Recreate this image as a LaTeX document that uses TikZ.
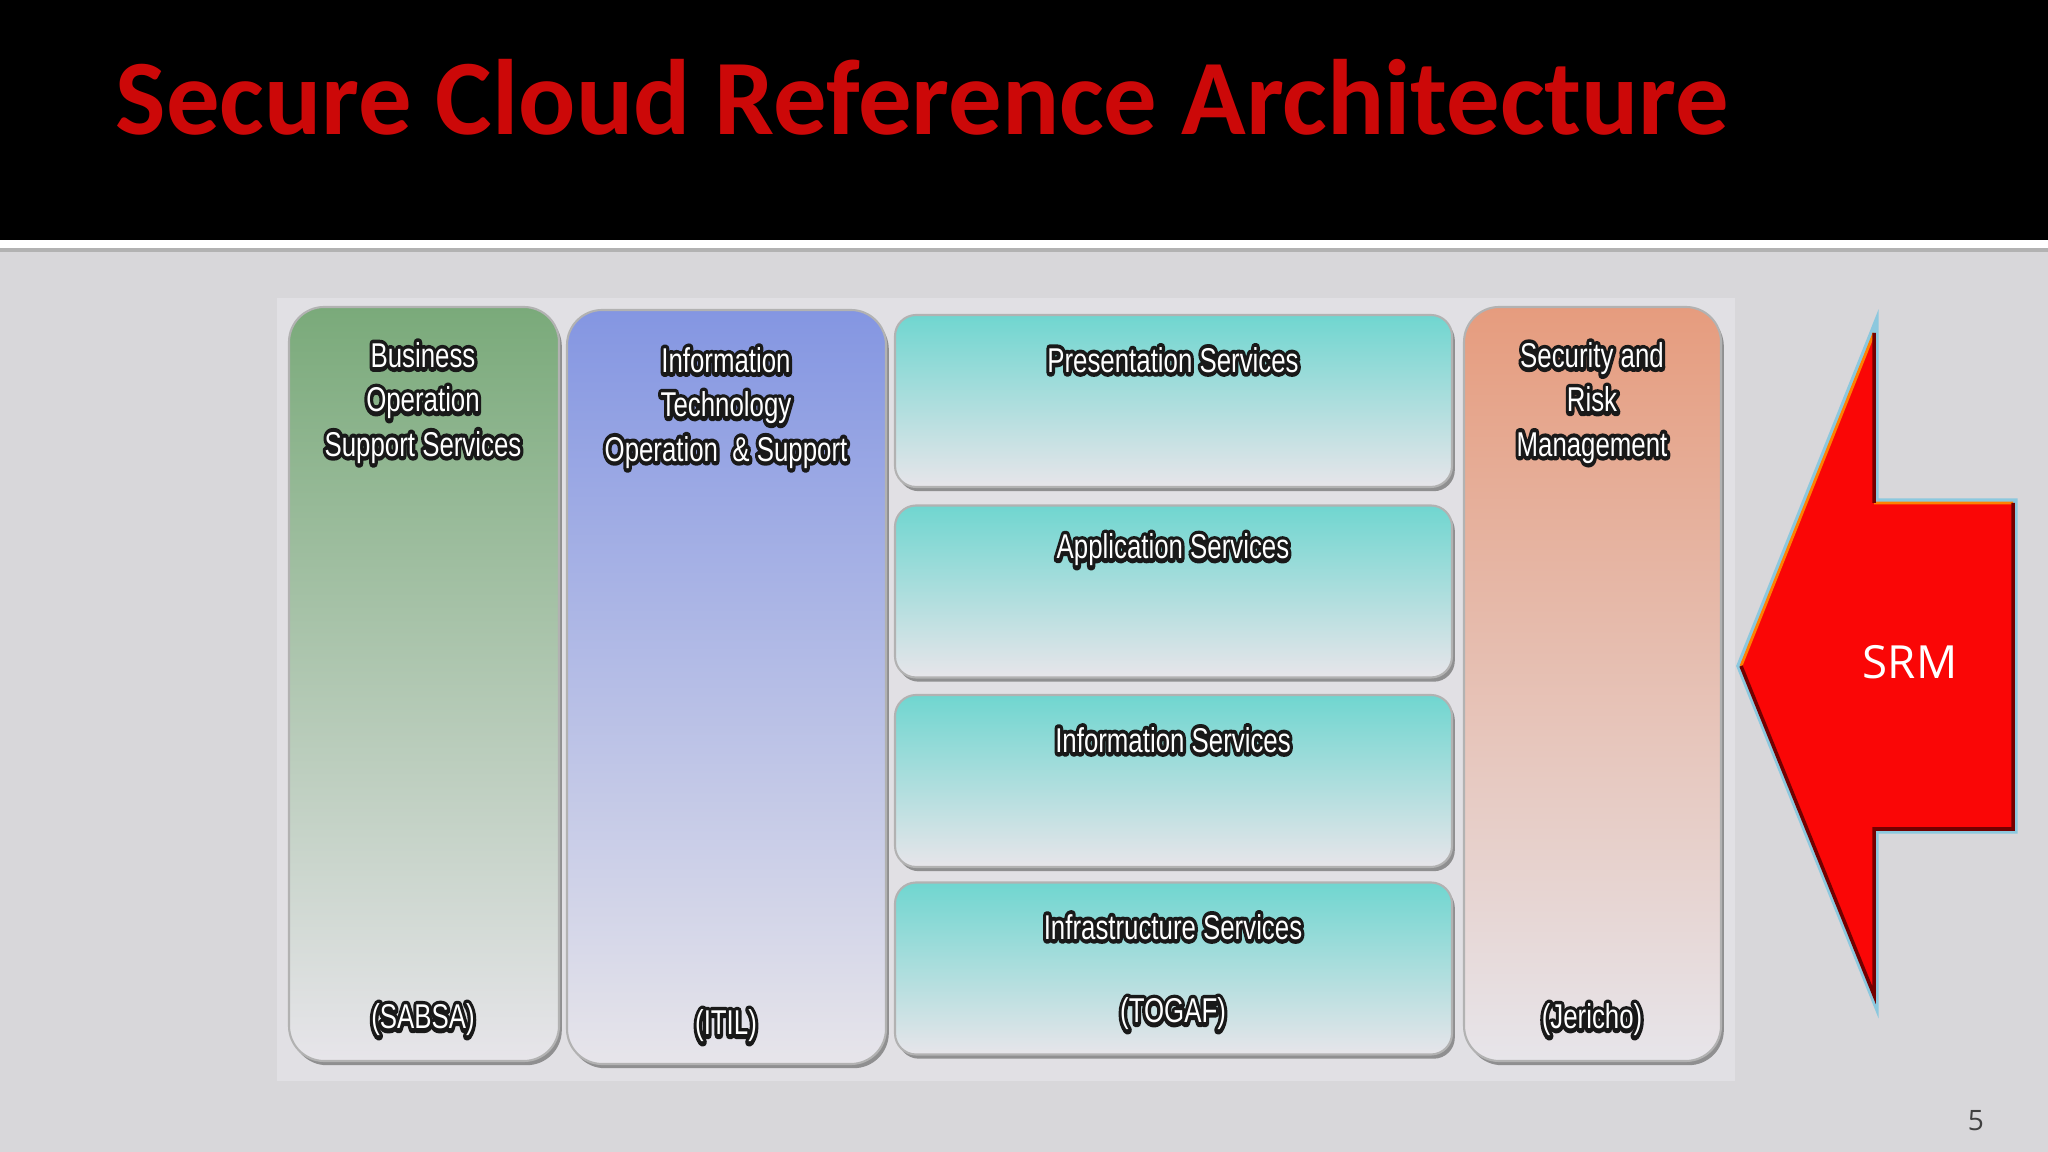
\documentclass[tikz,border=0pt]{standalone}
\usepackage{fontspec}
\setmainfont{Liberation Sans}
\newfontfamily\titlefont{Carlito}
\newfontfamily\srmfont{Open Sans}
\usetikzlibrary{
    shadows,     % For drop shadows under the columns
    positioning  % For relative placement
}

% Colours of the slide
\definecolor{slidegray}{RGB}{216,215,218}
\definecolor{panelgray}{RGB}{225,224,228}
\definecolor{titlered}{RGB}{204,8,8}
\definecolor{bosgreen}{RGB}{122,170,122}
\definecolor{itblue}{RGB}{132,150,226}
\definecolor{svccyan}{RGB}{112,214,208}
\definecolor{riskpeach}{RGB}{230,156,126}
\definecolor{fadegray}{RGB}{231,229,234}
\definecolor{arrowred}{RGB}{250,6,6}
\definecolor{glowblue}{RGB}{140,200,222}

% White narrow text with a dark halo (stroked copy under the filled one)
\newcommand{\halo}[1]{\scalebox{0.75}[1]{%
    \rlap{\special{pdf:literal direct 1 Tr 2.4 w 1 j 0.1 G}#1\special{pdf:literal direct 0 Tr}}#1}}

\begin{document}
\begin{tikzpicture}[
    x=0.1mm, y=-0.1mm, % one unit is one pixel, y downwards
    column/.style={rounded corners=10pt, draw=gray!60, line width=0.6pt,
        shading=axis, inner sep=0pt,
        drop shadow={shadow xshift=0.8pt, shadow yshift=-1.2pt, opacity=0.6, fill=gray!70!black}},
    service/.style={column, rounded corners=6pt, top color=svccyan, bottom color=fadegray,
        minimum width=55.7mm, minimum height=17.2mm},
    heading/.style={align=center, text=white, font=\fontsize{9.8}{12.6}\selectfont}
]
    \useasboundingbox (0,0) rectangle (2048,1152);

    % Slide background and header bar
    \fill[slidegray] (0,0) rectangle (2048,1152);
    \fill[gray!60] (0,248) rectangle (2048,252);
    \fill[white] (0,240) rectangle (2048,248);
    \fill[black] (0,0) rectangle (2048,240);
    \node[anchor=base west, inner sep=0pt, text=titlered] (title) at (115,135)
        {\titlefont\bfseries\fontsize{30.5}{36}\selectfont\scalebox{0.995}[1]{Secure Cloud Reference Architecture}};

    % Light panel behind the diagram
    \fill[panelgray] (277,298) rectangle (1735,1081);

    % Side columns
    \node[column, top color=bosgreen, bottom color=fadegray,
        minimum width=27mm, minimum height=75.4mm] (bos) at (424,684) {};
    \node[column, top color=itblue, bottom color=fadegray,
        minimum width=31.9mm, minimum height=75.4mm] (itos) at (726.5,687) {};
    \node[column, top color=riskpeach, bottom color=fadegray,
        minimum width=25.7mm, minimum height=75.4mm] (srm) at (1592.5,684) {};

    % Stack of services
    \node[service] (pres) at (1173.5,401) {};
    \node[service] (appl) at (1173.5,591.5) {};
    \node[service] (info) at (1173.5,781) {};
    \node[service] (infra) at (1173.5,968.5) {};

    % Column headings
    \node[heading] (bostext) at (423,403) {\halo{Business}\\\halo{Operation}\\\halo{Support Services}};
    \node[heading] (itostext) at (726,408) {\halo{Information}\\\halo{Technology}\\\halo{Operation \ \& Support}};
    \node[heading] (srmtext) at (1592,403) {\halo{Security and}\\\halo{Risk}\\\halo{Management}};
    \node[heading] (prestext) at (1173,360) {\halo{Presentation Services}};
    \node[heading] (appltext) at (1173,550) {\halo{Application Services}};
    \node[heading] (infotext) at (1173,740) {\halo{Information Services}};
    \node[heading] (infratext) at (1173,927) {\halo{Infrastructure Services}};

    % Framework names at the foot
    \node[heading] (sabsa) at (423,1020) {\halo{(SABSA)}};
    \node[heading] (itil) at (726,1026) {\halo{(ITIL)}};
    \node[heading] (togaf) at (1173,1014) {\halo{(TOGAF)}};
    \node[heading] (jericho) at (1592,1020) {\halo{(Jericho)}};

    % Big SRM arrow
    \def\arrowpts{(1741,666) -- (1874,333) -- (1874,503) -- (2013,503) -- (2013,829) -- (1874,829) -- (1874,995) -- cycle}
    \draw[glowblue, line width=2.6pt, line join=miter] \arrowpts;
    \fill[arrowred] \arrowpts;
    \draw[orange, line width=0.8pt] (1741,666) -- (1874,333) (1874,503) -- (2013,503);
    \draw[red!45!black, line width=1pt] (1874,333) -- (1874,503) (2013,503) -- (2013,829) -- (1874,829) -- (1874,995) -- (1741,666);
    \node[text=white, font=\srmfont\fontsize{13}{15}\selectfont] (srmlabel) at (1910,662) {SRM};

    % Slide number
    \node[text=black!75, font=\srmfont\fontsize{8}{10}\selectfont] (pageno) at (1976,1121) {5};

\end{tikzpicture}
\end{document}
